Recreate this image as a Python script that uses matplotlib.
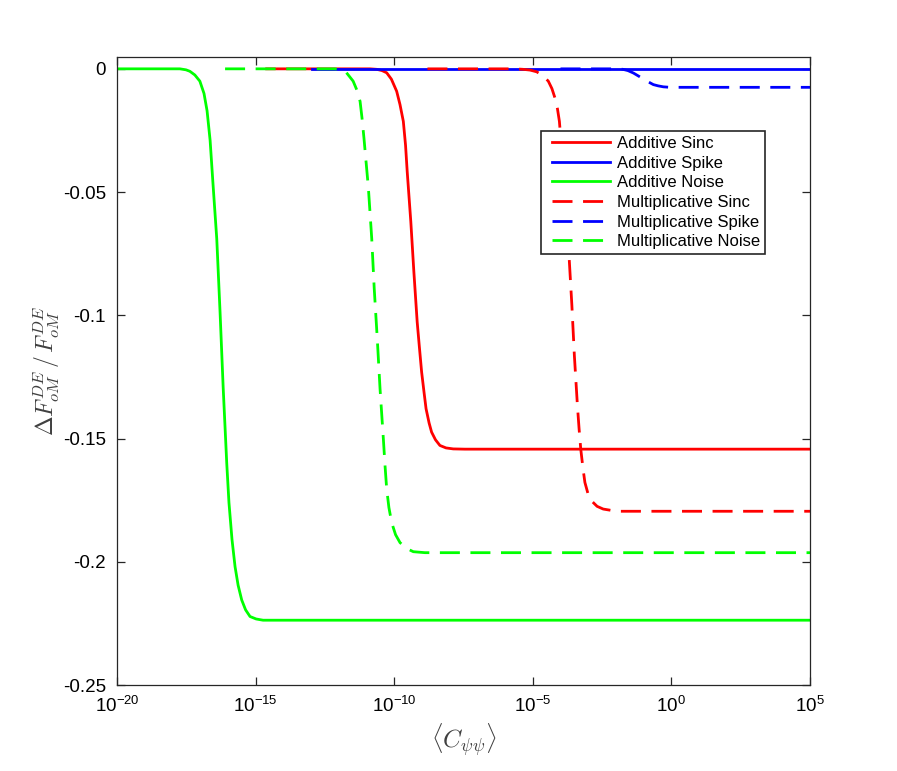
import numpy as np
from matplotlib import pyplot as plt
from matplotlib.lines import Line2D
from matplotlib.legend_handler import HandlerLine2D
from matplotlib.ticker import LogFormatterSciNotation, NullLocator

plt.rcParams['font.family'] = ['Liberation Sans', 'DejaVu Sans']
plt.rcParams['mathtext.fontset'] = 'custom'
plt.rcParams['mathtext.rm'] = 'Liberation Sans'
plt.rcParams['mathtext.it'] = 'Liberation Sans:italic'
plt.rcParams['axes.unicode_minus'] = False

# values: log10(<C>) and relative change
add_sinc_logx = [-14.6, -10.87, -10.63, -10.44, -10.27, -10.10, -9.91, -9.79, -9.67, -9.59,
                 -9.53, -9.40, -9.29, -9.17, -9.09, -9.01, -8.92, -8.85, -8.74, -8.65,
                 -8.51, -8.35, -8.13, -7.87, -7.45, 5.0]
add_sinc_y = [0, 0, -0.0002, -0.0007, -0.0016, -0.0042, -0.0091, -0.0145, -0.0213, -0.031,
              -0.0417, -0.0620, -0.0823, -0.1027, -0.113, -0.1230, -0.1315, -0.1379, -0.1437,
              -0.1474, -0.1505, -0.1528, -0.1538, -0.1542, -0.1543, -0.1543]

add_spike_logx = [-12.95, 5.0]
add_spike_y = [0, 0]

add_noise_logx = [-20.0, -17.73, -17.51, -17.37, -17.19, -17.01, -16.86, -16.75, -16.64,
                  -16.54, -16.40, -16.28, -16.17, -16.04, -15.96, -15.85, -15.74, -15.63,
                  -15.50, -15.36, -15.20, -14.98, -14.73, 5.0]
add_noise_y = [0, 0, -0.0004, -0.0010, -0.0025, -0.0050, -0.0100, -0.0170, -0.029,
               -0.046, -0.069, -0.099, -0.129, -0.160, -0.176, -0.191, -0.202, -0.2095,
               -0.2155, -0.2195, -0.2222, -0.2232, -0.2237, -0.2237]

mul_sinc_logx = [-8.8, -5.64, -5.35, -5.10, -4.86, -4.63, -4.44, -4.31, -4.20, -4.11, -4.04,
                 -3.95, -3.86, -3.77, -3.68, -3.59, -3.50, -3.39, -3.33, -3.27, -3.19, -3.12,
                 -3.01, -2.88, -2.68, -2.46, -2.14, -1.85, 5.0]
mul_sinc_y = [0, 0, -0.0002, -0.0005, -0.0012, -0.0028, -0.0050, -0.0080, -0.0118, -0.0162,
              -0.0213, -0.034, -0.048, -0.063, -0.0783, -0.0959, -0.1163, -0.1366, -0.146,
              -0.1542, -0.1620, -0.1678, -0.1723, -0.1753, -0.1775, -0.1786, -0.1792, -0.1795,
              -0.1795]

mul_spike_logx = [-4.0, -1.93, -1.75, -1.57, -1.37, -1.07, -0.88, -0.65, -0.48, -0.29, -0.05, 5.0]
mul_spike_y = [0, 0, -0.0002, -0.0007, -0.0017, -0.0037, -0.0050, -0.0064, -0.0069, -0.0073,
               -0.0075, -0.0075]

mul_noise_logx = [-16.1, -12.14, -11.96, -11.74, -11.48, -11.35, -11.23, -11.16, -11.09,
                  -10.93, -10.81, -10.72, -10.61, -10.51, -10.39, -10.33, -10.27, -10.19,
                  -10.09, -9.95, -9.79, -9.57, -9.31, -8.89, 5.0]
mul_noise_y = [0, 0, -0.0003, -0.0013, -0.0050, -0.0085, -0.0132, -0.020, -0.0281,
               -0.0484, -0.0688, -0.0891, -0.1095, -0.1298, -0.1502, -0.161, -0.1705, -0.178,
               -0.1841, -0.1890, -0.1922, -0.1945, -0.1959, -0.1963, -0.1963]

series = [
    ("Additive Sinc", add_sinc_logx, add_sinc_y, "#ff0000", "-"),
    ("Additive Spike", add_spike_logx, add_spike_y, "#0000ff", "-"),
    ("Additive Noise", add_noise_logx, add_noise_y, "#00ff00", "-"),
    ("Multiplicative Sinc", mul_sinc_logx, mul_sinc_y, "#ff0000", "--"),
    ("Multiplicative Spike", mul_spike_logx, mul_spike_y, "#0000ff", "--"),
    ("Multiplicative Noise", mul_noise_logx, mul_noise_y, "#00ff00", "--"),
]


class PaddedLineHandler(HandlerLine2D):
    """legend line that starts a bit right of the handle box, like matlab"""
    def create_artists(self, legend, orig_handle, xdescent, ydescent, width, height,
                       fontsize, trans):
        pad = 0.35 * fontsize
        return super().create_artists(legend, orig_handle, xdescent - pad, ydescent,
                                      width - pad, height, fontsize, trans)


fig = plt.figure(figsize=(8.97, 7.71), dpi=100)
ax = fig.add_axes([0.1304, 0.1115, 0.7726, 0.8152])

for label, lx, y, color, ls in series:
    line, = ax.plot(10.0 ** np.array(lx), y, color=color, linestyle=ls, lw=2.0, label=label)
    if ls == "--":
        line.set_dashes((7.2, 3.8))

ax.set_xscale("log")
ax.set_xlim(1e-20, 1e5)
ax.set_ylim(-0.25, 0.005)
ax.set_xticks([1e-20, 1e-15, 1e-10, 1e-5, 1e0, 1e5])
ax.xaxis.set_major_formatter(LogFormatterSciNotation())
ax.xaxis.set_minor_locator(NullLocator())
ax.set_yticks([0, -0.05, -0.1, -0.15, -0.2, -0.25])
ax.set_yticklabels(["0", "-0.05", "-0.1", "-0.15", "-0.2", "-0.25"])

axcol = "#262626"
for sp in ax.spines.values():
    sp.set_color(axcol)
    sp.set_linewidth(0.9)
ax.tick_params(which="both", direction="in", top=True, right=True, length=6,
               width=0.9, color=axcol, labelsize=13.5, labelcolor="black", pad=8)

ax.set_xlabel(r"$\langle C_{\psi\psi} \rangle$", fontsize=18, math_fontfamily="cm",
              color="#404040", labelpad=4)
ax.set_ylabel(r"$\Delta F^{DE}_{oM}\,/\,F^{DE}_{oM}$", fontsize=17, math_fontfamily="cm",
              color="#404040", labelpad=0.5)

leg = ax.legend(loc="upper left", bbox_to_anchor=(0.612, 0.8815), borderaxespad=0,
                fontsize=12, handlelength=3.86, handletextpad=0.4, labelspacing=0.28,
                fancybox=False, framealpha=1, borderpad=0.3,
                handler_map={Line2D: PaddedLineHandler()})
leg.get_frame().set_edgecolor(axcol)
leg.get_frame().set_linewidth(1.2)

fig.savefig("out.png", dpi=100)
